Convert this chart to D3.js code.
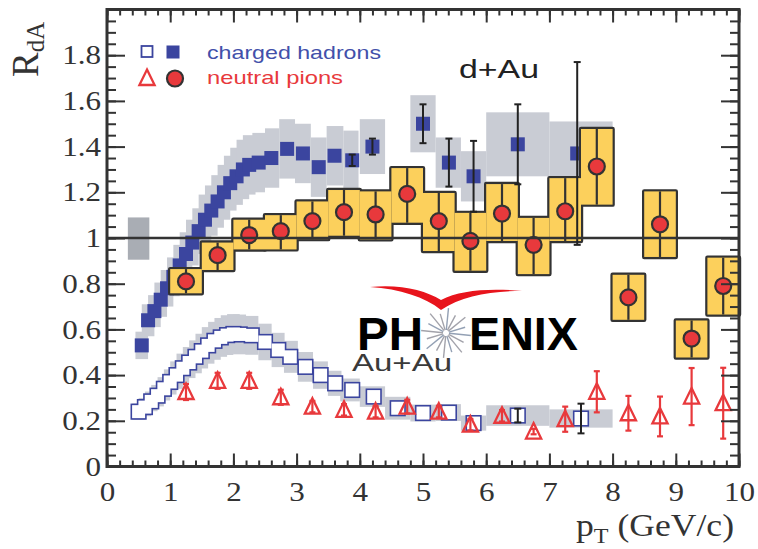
<!DOCTYPE html>
<html>
<head>
<meta charset="utf-8">
<script src="https://cdn.jsdelivr.net/npm/d3@7"></script>
<style>
body { margin: 0; background: #fff; }
svg { display: block; }
</style>
</head>
<body>
<div id="chart"></div>
<script>
// charged hadrons d+Au: [pT, R, sys, stat err, bin lo, bin hi]
const hadronsDAu = [
	[0.55, 0.53, 0.06, 0], [0.65, 0.64, 0.07, 0], [0.75, 0.68, 0.07, 0], [0.85, 0.73, 0.075, 0],
	[0.95, 0.78, 0.08, 0], [1.05, 0.83, 0.085, 0], [1.15, 0.88, 0.09, 0], [1.25, 0.93, 0.095, 0],
	[1.35, 0.98, 0.1, 0], [1.45, 1.03, 0.1, 0], [1.55, 1.08, 0.11, 0], [1.65, 1.12, 0.11, 0],
	[1.75, 1.16, 0.115, 0], [1.85, 1.20, 0.12, 0], [1.95, 1.24, 0.12, 0], [2.05, 1.27, 0.125, 0],
	[2.15, 1.30, 0.13, 0], [2.25, 1.32, 0.13, 0], [2.4, 1.33, 0.13, 0], [2.6, 1.35, 0.13, 0],
	[2.85, 1.39, 0.13, 0], [3.1, 1.37, 0.13, 0], [3.35, 1.31, 0.13, 0], [3.6, 1.36, 0.13, 0],
	[3.88, 1.34, 0.13, 0.025],
	[4.2, 1.40, 0.12, 0.035, 4.0, 4.4],
	[5.0, 1.50, 0.125, 0.085, 4.8, 5.2],
	[5.41, 1.33, 0.11, 0.105, 5.2, 5.6],
	[5.8, 1.27, 0.11, 0.155, 5.6, 6.0],
	[6.5, 1.41, 0.14, 0.175, 6.0, 7.0],
	[7.44, 1.37, 0.14, 0.40, 7.0, 8.0]
]

// charged hadrons Au+Au
const hadronsAuAu = [
	[0.5, 0.24, 0.036, 0], [0.6, 0.26, 0.04, 0], [0.7, 0.285, 0.043, 0], [0.8, 0.31, 0.047, 0],
	[0.9, 0.34, 0.051, 0], [1.0, 0.37, 0.055, 0], [1.1, 0.40, 0.06, 0], [1.2, 0.43, 0.064, 0],
	[1.3, 0.455, 0.068, 0], [1.4, 0.48, 0.072, 0], [1.5, 0.505, 0.076, 0], [1.6, 0.53, 0.08, 0],
	[1.7, 0.55, 0.083, 0], [1.8, 0.565, 0.085, 0], [1.9, 0.575, 0.087, 0], [2.0, 0.58, 0.087, 0],
	[2.1, 0.578, 0.087, 0], [2.29, 0.574, 0.085, 0], [2.5, 0.545, 0.08, 0], [2.71, 0.51, 0.075, 0],
	[2.9, 0.48, 0.07, 0], [3.14, 0.436, 0.065, 0], [3.38, 0.40, 0.06, 0], [3.61, 0.364, 0.055, 0],
	[3.88, 0.335, 0.05, 0, 3.69, 4.0],
	[4.22, 0.306, 0.045, 0, 4.0, 4.4],
	[4.6, 0.255, 0.05, 0, 4.4, 4.8],
	[5.0, 0.234, 0.037, 0, 4.8, 5.2],
	[5.41, 0.236, 0.037, 0, 5.2, 5.6],
	[5.8, 0.19, 0.033, 0, 5.6, 6.0],
	[6.5, 0.223, 0.045, 0.03, 6.0, 7.0],
	[7.5, 0.21, 0.04, 0.065, 7.0, 8.0]
]

// neutral pions d+Au: [pT, R, sys lo, sys hi]
const pionsDAu = [
	[1.25, 0.81, 0.758, 0.864], [1.75, 0.925, 0.86, 0.98], [2.25, 1.013, 0.95, 1.08],
	[2.75, 1.03, 0.95, 1.10], [3.25, 1.074, 0.995, 1.16], [3.75, 1.113, 1.01, 1.21],
	[4.25, 1.103, 0.994, 1.204], [4.75, 1.193, 1.067, 1.306], [5.25, 1.074, 0.943, 1.197],
	[5.75, 0.987, 0.857, 1.11], [6.25, 1.107, 0.987, 1.236], [6.75, 0.970, 0.842, 1.088],
	[7.25, 1.117, 0.987, 1.262], [7.75, 1.313, 1.146, 1.477], [8.25, 0.74, 0.642, 0.839],
	[8.75, 1.06, 0.917, 1.204], [9.25, 0.56, 0.477, 0.639], [9.75, 0.79, 0.665, 0.914]
]

// neutral pions Au+Au: [pT, R, err]
const pionsAuAu = [
	[1.25, 0.326, 0.035], [1.75, 0.375, 0.035], [2.25, 0.375, 0.035], [2.75, 0.303, 0.033],
	[3.25, 0.262, 0.025], [3.75, 0.248, 0.025], [4.25, 0.24, 0.025], [4.75, 0.262, 0.03],
	[5.25, 0.24, 0.025], [5.75, 0.183, 0.025], [6.25, 0.222, 0.025], [6.75, 0.153, 0.012],
	[7.25, 0.207, 0.055], [7.75, 0.327, 0.09], [8.25, 0.233, 0.076], [8.75, 0.219, 0.087],
	[9.25, 0.306, 0.125], [9.75, 0.277, 0.155]
]

// normalisation uncertainty box at R = 1
const normBox = [0.33, 0.67, 0.905, 1.09]

const xTickLabels = ["0", "1", "2", "3", "4", "5", "6", "7", "8", "9", "10"]
const yTickLabels = ["0", "0.2", "0.4", "0.6", "0.8", "1", "1.2", "1.4", "1.6", "1.8"]

const blue = "#3b459f", red = "#e8393c", yellow = "#fcd05c", dark = "#333"
const grayBand = "#c9ccd4"

const svgWidth = 758, svgHeight = 549

let svg = d3.select("#chart").append("svg")
	.attr("width", svgWidth)
	.attr("height", svgHeight)

var x = d3.scaleLinear().domain([0, 10]).range([107, 739])
var y = d3.scaleLinear().domain([0, 2]).range([466.5, 9.5])

let plot = svg.append("g")

// band edges: explicit bins for high pT, otherwise half way to neighbours
function edges(series) {
	return series.map((p, i) => {
		if (p.length > 4) return [p[4], p[5]]
		let prev = series[i - 1], next = series[i + 1]
		let lo = prev ? (prev[0] + p[0]) / 2 : p[0] - 0.1
		let hi = next && next.length <= 4 ? (next[0] + p[0]) / 2 : p[0] + 0.1
		return [Math.min(lo, p[0] - 0.1), Math.max(hi, p[0] + 0.1)]
	})
}

const dAuEdges = edges(hadronsDAu)
const auEdges = edges(hadronsAuAu)

// systematic bands
plot.append("g").selectAll("rect")
	.data(hadronsDAu)
	.enter().append("rect")
	.attr("fill", grayBand)
	.attr("x", (d, i) => x(dAuEdges[i][0]))
	.attr("width", (d, i) => x(dAuEdges[i][1]) - x(dAuEdges[i][0]))
	.attr("y", d => y(d[1] + d[2]))
	.attr("height", d => y(d[1] - d[2]) - y(d[1] + d[2]))

plot.append("g").selectAll("rect")
	.data(hadronsAuAu)
	.enter().append("rect")
	.attr("fill", grayBand)
	.attr("x", (d, i) => x(auEdges[i][0]))
	.attr("width", (d, i) => x(auEdges[i][1]) - x(auEdges[i][0]))
	.attr("y", d => y(d[1] + d[2]))
	.attr("height", d => y(d[1] - d[2]) - y(d[1] + d[2]))

plot.append("rect")
	.attr("fill", "#a9adb4")
	.attr("x", x(normBox[0]))
	.attr("width", x(normBox[1]) - x(normBox[0]))
	.attr("y", y(normBox[3]))
	.attr("height", y(normBox[2]) - y(normBox[3]))

// filled squares d+Au
const sq = 14
plot.append("g").selectAll("rect")
	.data(hadronsDAu)
	.enter().append("rect")
	.attr("fill", blue)
	.attr("x", d => x(d[0]) - sq / 2)
	.attr("y", d => y(d[1]) - sq / 2)
	.attr("width", sq)
	.attr("height", sq)

// yellow boxes: strokes under fills so only the outline of the union stays
let boxes = plot.append("g")
boxes.selectAll("rect.edge")
	.data(pionsDAu)
	.enter().append("rect")
	.attr("class", "edge")
	.attr("fill", "none")
	.attr("stroke", dark)
	.attr("stroke-width", 4.4)
	.attr("stroke-linejoin", "round")
	.attr("x", d => x(d[0] - 0.25))
	.attr("width", d => x(d[0] + 0.25) - x(d[0] - 0.25))
	.attr("y", d => y(d[3]))
	.attr("height", d => y(d[2]) - y(d[3]))
boxes.selectAll("rect.fill")
	.data(pionsDAu)
	.enter().append("rect")
	.attr("class", "fill")
	.attr("fill", yellow)
	.attr("x", d => x(d[0] - 0.25))
	.attr("width", d => x(d[0] + 0.25) - x(d[0] - 0.25))
	.attr("y", d => y(d[3]))
	.attr("height", d => y(d[2]) - y(d[3]))
boxes.selectAll("line")
	.data(pionsDAu)
	.enter().append("line")
	.attr("stroke", dark)
	.attr("stroke-width", 2.2)
	.attr("x1", d => x(d[0])).attr("x2", d => x(d[0]))
	.attr("y1", d => y(d[3])).attr("y2", d => y(d[2]))
boxes.selectAll("circle")
	.data(pionsDAu)
	.enter().append("circle")
	.attr("fill", red)
	.attr("stroke", dark)
	.attr("stroke-width", 2.2)
	.attr("cx", d => x(d[0]))
	.attr("cy", d => y(d[1]))
	.attr("r", 8)

// error bars with caps
function errorBars(g, data, color, cap, width) {
	let bars = g.append("g").selectAll("g")
		.data(data.filter(d => d[3] > 0))
		.enter().append("g")
		.attr("stroke", color)
		.attr("stroke-width", width)
	bars.append("line")
		.attr("x1", d => x(d[0])).attr("x2", d => x(d[0]))
		.attr("y1", d => y(d[1] + d[3])).attr("y2", d => y(d[1] - d[3]))
	bars.append("line")
		.attr("x1", d => x(d[0]) - cap).attr("x2", d => x(d[0]) + cap)
		.attr("y1", d => y(d[1] + d[3])).attr("y2", d => y(d[1] + d[3]))
	bars.append("line")
		.attr("x1", d => x(d[0]) - cap).attr("x2", d => x(d[0]) + cap)
		.attr("y1", d => y(d[1] - d[3])).attr("y2", d => y(d[1] - d[3]))
}
errorBars(plot, hadronsDAu, "#222", 3.5, 2)

// open squares Au+Au, also outline of union
const osq = 13
let open = plot.append("g")
open.selectAll("rect.edge")
	.data(hadronsAuAu)
	.enter().append("rect")
	.attr("class", "edge")
	.attr("fill", "none")
	.attr("stroke", blue)
	.attr("stroke-width", 3.2)
	.attr("x", d => x(d[0]) - osq / 2)
	.attr("y", d => y(d[1]) - osq / 2)
	.attr("width", osq).attr("height", osq)
open.selectAll("rect.fill")
	.data(hadronsAuAu)
	.enter().append("rect")
	.attr("class", "fill")
	.attr("fill", "#fff")
	.attr("x", d => x(d[0]) - osq / 2)
	.attr("y", d => y(d[1]) - osq / 2)
	.attr("width", osq).attr("height", osq)
errorBars(plot, hadronsAuAu, "#222", 3.5, 2)

// triangles Au+Au pions
const tri = "M0,-8.5 L7.6,7 L-7.6,7 Z"
errorBars(plot, pionsAuAu.map(d => [d[0], d[1], 0, d[2]]), red, 3, 2.2)
plot.append("g").selectAll("path")
	.data(pionsAuAu)
	.enter().append("path")
	.attr("fill", "none")
	.attr("stroke", red)
	.attr("stroke-width", 2.3)
	.attr("transform", d => "translate(" + x(d[0]) + "," + y(d[1]) + ")")
	.attr("d", tri)

// R = 1 line
plot.append("line")
	.attr("stroke", dark)
	.attr("stroke-width", 2.4)
	.attr("x1", x(0)).attr("x2", x(10))
	.attr("y1", y(1)).attr("y2", y(1))

// labels inside
svg.append("text")
	.attr("x", 459).attr("y", 78)
	.attr("font-family", "Liberation Sans, Arial, sans-serif")
	.attr("font-size", 25)
	.attr("fill", "#222")
	.attr("textLength", 80).attr("lengthAdjust", "spacingAndGlyphs")
	.text("d+Au")

svg.append("text")
	.attr("x", 352).attr("y", 371)
	.attr("font-family", "Liberation Sans, Arial, sans-serif")
	.attr("font-size", 23)
	.attr("fill", "#3a3a3a")
	.attr("textLength", 100).attr("lengthAdjust", "spacingAndGlyphs")
	.text("Au+Au")

// PHENIX logo
let logo = svg.append("g")
logo.append("path")
	.attr("fill", "#e8141c")
	.attr("d", "M370,287 C400,284 425,290 441,300 C460,290 490,288 522,291 C490,291 462,296 441,310 C425,297 400,289 370,287 Z")
let star = logo.append("g").attr("transform", "translate(446,333)")
d3.range(16).forEach(i => {
	let a = i * Math.PI / 8 + 0.1
	let len = i % 2 ? 20 : 25
	star.append("line")
		.attr("stroke", i % 3 ? "#a2a2aa" : "#93a0b4")
		.attr("stroke-width", 1.4)
		.attr("x1", Math.cos(a) * 3).attr("y1", Math.sin(a) * 3)
		.attr("x2", Math.cos(a) * len).attr("y2", Math.sin(a) * len)
})
logo.append("text")
	.attr("x", 357).attr("y", 350)
	.attr("font-family", "Liberation Sans, Arial, sans-serif")
	.attr("font-weight", "bold")
	.attr("font-size", 46)
	.attr("fill", "#000")
	.attr("textLength", 66).attr("lengthAdjust", "spacingAndGlyphs")
	.text("PH")
logo.append("text")
	.attr("x", 469).attr("y", 350)
	.attr("font-family", "Liberation Sans, Arial, sans-serif")
	.attr("font-weight", "bold")
	.attr("font-size", 46)
	.attr("fill", "#000")
	.attr("textLength", 109).attr("lengthAdjust", "spacingAndGlyphs")
	.text("ENIX")

// legend
let legend = svg.append("g")
legend.append("rect")
	.attr("x", 141.5).attr("y", 46).attr("width", 11).attr("height", 11)
	.attr("fill", "#fff").attr("stroke", blue).attr("stroke-width", 1.8)
legend.append("rect")
	.attr("x", 166.5).attr("y", 45.5).attr("width", 13).attr("height", 13)
	.attr("fill", blue)
legend.append("text")
	.attr("x", 207).attr("y", 59)
	.attr("font-family", "Liberation Sans, Arial, sans-serif")
	.attr("font-size", 19)
	.attr("fill", "#4250aa")
	.attr("textLength", 174).attr("lengthAdjust", "spacingAndGlyphs")
	.text("charged hadrons")
legend.append("path")
	.attr("transform", "translate(147,78)")
	.attr("fill", "none").attr("stroke", red).attr("stroke-width", 2.3)
	.attr("d", tri)
legend.append("circle")
	.attr("cx", 175).attr("cy", 78.5).attr("r", 8)
	.attr("fill", red).attr("stroke", dark).attr("stroke-width", 2.2)
legend.append("text")
	.attr("x", 207).attr("y", 84)
	.attr("font-family", "Liberation Sans, Arial, sans-serif")
	.attr("font-size", 19)
	.attr("fill", red)
	.attr("textLength", 136).attr("lengthAdjust", "spacingAndGlyphs")
	.text("neutral pions")

// axes: ticks point inward on all four sides
function styleAxis(g) {
	g.select(".domain").remove()
	g.selectAll("line").attr("stroke", dark).attr("stroke-width", 2)
	g.selectAll("text")
		.attr("font-family", "Liberation Serif, Times New Roman, serif")
		.attr("font-size", 27)
		.attr("fill", "#333")
		.each(function() {
			// labels in the reference are a little wider than the font
			let w = this.getComputedTextLength()
			d3.select(this).attr("textLength", w * 1.15).attr("lengthAdjust", "spacingAndGlyphs")
		})
}

const xMinor = d3.range(0, 10.001, 0.2)
const yMinor = d3.range(0, 2.001, 0.05)
const yMajor = d3.range(0, 1.801, 0.2)

svg.append("g").attr("transform", "translate(0," + y(0) + ")")
	.call(d3.axisBottom(x).tickValues(xMinor).tickSize(-6).tickSizeOuter(0).tickFormat(""))
	.call(styleAxis)
svg.append("g").attr("transform", "translate(0," + y(0) + ")")
	.call(d3.axisBottom(x).tickValues(d3.range(0, 11)).tickSize(-13).tickSizeOuter(0).tickPadding(13)
		.tickFormat((d, i) => xTickLabels[i]))
	.call(styleAxis)
	.selectAll("text").attr("dy", "0.8em")
svg.append("g").attr("transform", "translate(0," + y(2) + ")")
	.call(d3.axisTop(x).tickValues(xMinor).tickSize(-6).tickSizeOuter(0).tickFormat(""))
	.call(styleAxis)
svg.append("g").attr("transform", "translate(0," + y(2) + ")")
	.call(d3.axisTop(x).tickValues(d3.range(0, 11)).tickSize(-13).tickSizeOuter(0).tickFormat(""))
	.call(styleAxis)

svg.append("g").attr("transform", "translate(" + x(0) + ",0)")
	.call(d3.axisLeft(y).tickValues(yMinor).tickSize(-9).tickSizeOuter(0).tickFormat(""))
	.call(styleAxis)
svg.append("g").attr("transform", "translate(" + x(0) + ",0)")
	.call(d3.axisLeft(y).tickValues(yMajor).tickSize(-18).tickSizeOuter(0).tickPadding(6)
		.tickFormat((d, i) => yTickLabels[i]))
	.call(styleAxis)
svg.append("g").attr("transform", "translate(" + x(10) + ",0)")
	.call(d3.axisRight(y).tickValues(yMinor).tickSize(-9).tickSizeOuter(0).tickFormat(""))
	.call(styleAxis)
svg.append("g").attr("transform", "translate(" + x(10) + ",0)")
	.call(d3.axisRight(y).tickValues(yMajor).tickSize(-18).tickSizeOuter(0).tickFormat(""))
	.call(styleAxis)

// frame
svg.append("rect")
	.attr("x", x(0)).attr("y", y(2))
	.attr("width", x(10) - x(0)).attr("height", y(0) - y(2))
	.attr("fill", "none").attr("stroke", dark).attr("stroke-width", 3)

// axis titles
let xt = svg.append("text")
	.attr("x", 576).attr("y", 536)
	.attr("font-family", "Liberation Serif, Times New Roman, serif")
	.attr("font-size", 31)
	.attr("fill", "#333")
	.attr("textLength", 158).attr("lengthAdjust", "spacingAndGlyphs")
xt.append("tspan").text("p")
xt.append("tspan").attr("font-size", 21).attr("dy", 7).text("T")
xt.append("tspan").attr("dy", -7).text(" (GeV/c)")

let yt = svg.append("text")
	.attr("transform", "translate(38,77) rotate(-90)")
	.attr("font-family", "Liberation Serif, Times New Roman, serif")
	.attr("font-size", 37)
	.attr("fill", "#333")
yt.append("tspan").text("R")
yt.append("tspan").attr("font-size", 25).attr("dy", 6).text("dA")
</script>
</body>
</html>
